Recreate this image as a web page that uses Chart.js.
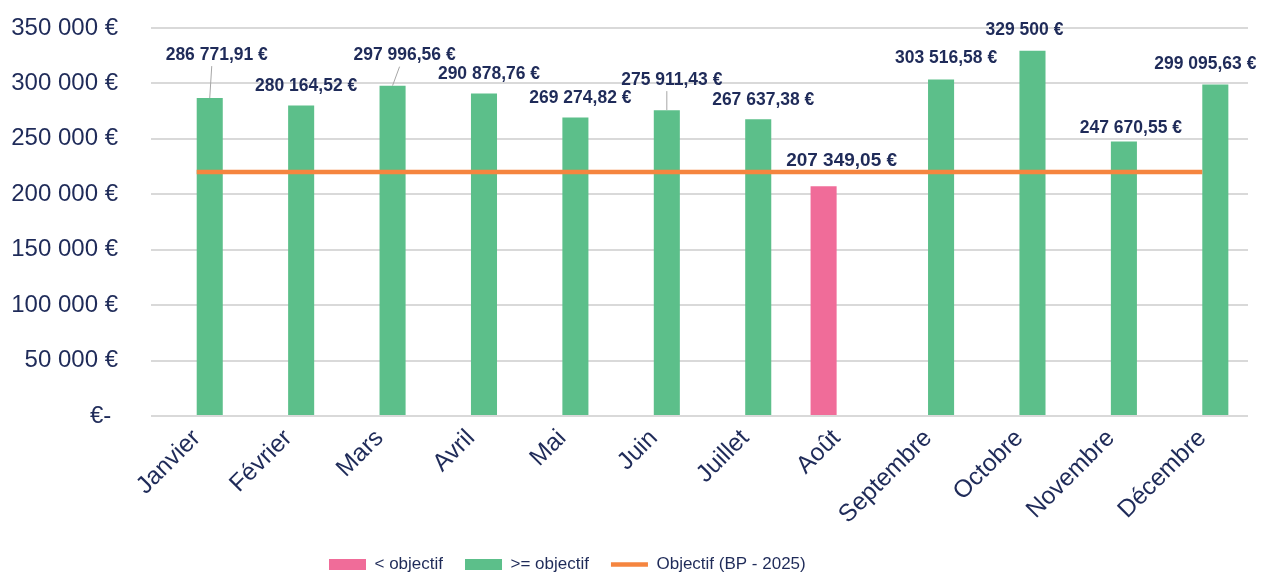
<!DOCTYPE html>
<html lang="fr">

<head>
  <title>CA mensuel vs objectif</title>
  <meta charset="UTF-8">
  <meta name="viewport" content="width=device-width, initial-scale=1">
  <script src="https://cdn.jsdelivr.net/npm/chart.js@4.4.1/dist/chart.umd.min.js"></script>
  <style>
    html, body { margin: 0; padding: 0; background: #fff; }
    #wrap { width: 1261px; height: 574px; position: relative; }
  </style>
</head>

<body>
  <div id="wrap"><canvas id="myChart"></canvas></div>
  <script>
    const months = ["Janvier", "Février", "Mars", "Avril", "Mai", "Juin", "Juillet", "Août", "Septembre", "Octobre", "Novembre", "Décembre"];
    const revenue = [286771.91, 280164.52, 297996.56, 290878.76, 269274.82, 275911.43, 267637.38, 207349.05, 303516.58, 329500, 247670.55, 299095.63];
    const objectif = [220000, 220000, 220000, 220000, 220000, 220000, 220000, 220000, 220000, 220000, 220000, 220000];
    const yTicks = [0, 50000, 100000, 150000, 200000, 250000, 300000, 350000];

    const NAVY = "#1F2B59";
    const ORANGE = "#F5853F";
    const FONT = "'Liberation Sans', Arial, sans-serif";

    // split revenue into the two bar series
    const below = revenue.map((v, i) => v < objectif[i] ? v : null);
    const above = revenue.map((v, i) => v >= objectif[i] ? v : null);

    function euro(v) {
      const parts = v.toFixed(2).split(".");
      const intPart = parts[0].replace(/\B(?=(\d{3})+(?!\d))/g, " ");
      return (parts[1] === "00" ? intPart : intPart + "," + parts[1]) + " €";
    }

    // value labels above bars, with a few Excel-style manual nudges
    const valueLabels = {
      id: "valueLabels",
      afterDatasetsDraw(chart, args, opts) {
        const ctx = chart.ctx;
        ctx.save();
        ctx.textAlign = "center";
        ctx.textBaseline = "middle";
        [0, 1].forEach(di => {
          const meta = chart.getDatasetMeta(di);
          meta.data.forEach((bar, i) => {
            const v = chart.data.datasets[di].data[i];
            if (v == null) return;
            const n = opts.nudge[months[i]] || {};
            const x = bar.x + (n.dx !== undefined ? n.dx : opts.dx);
            const y = bar.y + (n.dy !== undefined ? n.dy : opts.dy);
            if (n.leader) {
              ctx.strokeStyle = "#A6A6A6";
              ctx.lineWidth = 1;
              ctx.beginPath();
              ctx.moveTo(bar.x, bar.y);
              ctx.lineTo(bar.x + (n.lx || 0), y + 11);
              ctx.stroke();
            }
            ctx.fillStyle = NAVY;
            ctx.font = "bold " + (n.size || 17.5) + "px " + FONT;
            ctx.fillText(euro(v), x, y);
          });
        });
        ctx.restore();
      }
    };

    // move the bottom legend to where the original sits
    const legendShift = {
      id: "legendShift",
      afterLayout(chart, args, opts) {
        const lg = chart.legend;
        lg.left += opts.x; lg.right += opts.x;
        lg.top += opts.y; lg.bottom += opts.y;
      }
    };

    new Chart("myChart", {
      data: {
        labels: months,
        datasets: [
          {
            type: "bar",
            label: "< objectif",
            data: below,
            backgroundColor: "#F06C99",
            pointStyle: "rect",
            barPercentage: 1,
            categoryPercentage: 0.57,
            order: 1
          },
          {
            type: "bar",
            label: ">= objectif",
            data: above,
            backgroundColor: "#5CBF8A",
            pointStyle: "rect",
            barPercentage: 1,
            categoryPercentage: 0.57,
            order: 1
          },
          {
            type: "line",
            label: "Objectif (BP - 2025)",
            data: objectif,
            borderColor: ORANGE,
            backgroundColor: ORANGE,
            borderWidth: 4.5,
            pointRadius: 0,
            pointStyle: "line",
            pointBorderColor: ORANGE,
            pointBackgroundColor: ORANGE,
            pointBorderWidth: 4.5,
            fill: false,
            order: 0
          }
        ]
      },
      options: {
        responsive: true,
        maintainAspectRatio: false,
        animation: false,
        layout: { padding: { top: 28, right: 13, left: 0, bottom: 0 } },
        plugins: {
          tooltip: { enabled: false },
          legend: {
            position: "bottom",
            align: "start",
            labels: {
              usePointStyle: true,
              pointStyleWidth: 37,
              boxHeight: 11,
              padding: 22,
              color: NAVY,
              font: { family: FONT, size: 17 },
              sort: (a, b) => a.datasetIndex - b.datasetIndex
            }
          },
          legendShift: { x: 307, y: 9 },
          valueLabels: {
            dx: 5,
            dy: -19,
            nudge: {
              "Janvier": { dx: 7, dy: -43, leader: true, lx: 2 },
              "Mars": { dx: 12, dy: -30, leader: true, lx: 7 },
              "Juin": { dx: 5, dy: -30, leader: true, lx: 0 },
              "Août": { dx: 18, dy: -25, size: 19 },
              "Septembre": { dy: -21 },
              "Octobre": { dx: -8, dy: -21 },
              "Novembre": { dx: 7, dy: -13 },
              "Décembre": { dx: -10, dy: -20 }
            }
          }
        },
        scales: {
          x: {
            grid: { display: false, drawTicks: false },
            border: { display: false },
            ticks: {
              color: NAVY,
              font: { family: FONT, size: 24.5 },
              maxRotation: 45,
              minRotation: 45,
              padding: 8
            },
            afterFit(scale) { scale.height = 109; }
          },
          y: {
            min: 0,
            max: 350000,
            grid: { color: "#D9D9D9", lineWidth: 2, drawTicks: false },
            border: { display: false },
            ticks: {
              color: NAVY,
              font: { family: FONT, size: 24 },
              padding: 33,
              callback: v => v === 0 ? "€- " : euro(v)
            },
            afterBuildTicks(scale) {
              scale.ticks = yTicks.map(v => ({ value: v }));
            },
            afterFit(scale) {
              scale.width = 151;
              scale.paddingTop = 14;
              scale.paddingBottom = 14;
            }
          }
        }
      },
      plugins: [valueLabels, legendShift]
    });
  </script>
</body>

</html>
